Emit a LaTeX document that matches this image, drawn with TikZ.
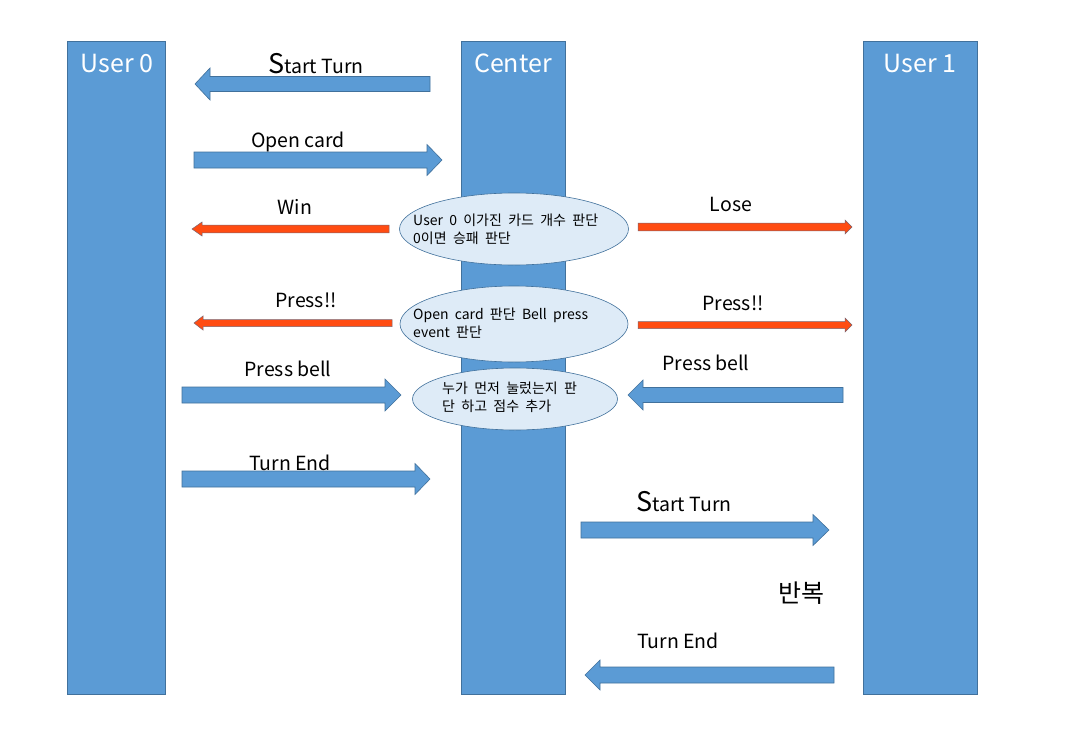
\documentclass[tikz,border=0pt]{standalone}
\usepackage{fontspec}
\setmainfont{Noto Sans CJK KR}
\usetikzlibrary{shapes.geometric}
\definecolor{colfill}{HTML}{5B9BD5}
\definecolor{colline}{HTML}{41719C}
\definecolor{ellfill}{HTML}{DEEBF7}
\definecolor{hotfill}{HTML}{FF4C12}
% \barrow{style}{xstart}{xheadbase}{xtip}{y}{half body}{half head}
\newcommand\barrow[7]{%
  \draw[#1] (#2,#5-#6) -- (#3,#5-#6) -- (#3,#5-#7) -- (#4,#5) -- (#3,#5+#7) -- (#3,#5+#6) -- (#2,#5+#6) -- cycle;}
\newcommand\judgefont{\fontsize{14}{18}\selectfont\spaceskip=0.45em\relax}
\tikzset{
  column/.style={draw=colline, fill=colfill, line width=0.6pt},
  colhead/.style={text=white, font=\fontsize{25}{28}\selectfont},
  bluearrow/.style={draw=colline, fill=colfill, line width=0.6pt},
  hotarrow/.style={draw=colline!70!hotfill, fill=hotfill, line width=0.5pt},
  lab/.style={font=\fontsize{19.5}{22}\selectfont, inner sep=0pt},
  judge/.style={ellipse, draw=colline, fill=ellfill, line width=0.6pt, inner sep=0pt},
  judgetext/.style={align=left, font=\judgefont, inner sep=0pt, anchor=west},
}
\newcommand\bigS{{\fontsize{27}{27}\selectfont S}}
\begin{document}
\begin{tikzpicture}[x=1pt,y=-1pt]
\useasboundingbox (0,0) rectangle (1076,731);
\fill[white] (0,0) rectangle (1076,731);
% columns
\draw[column] (67,41) rectangle (165,694);
\draw[column] (461,41) rectangle (565,694);
\draw[column] (863,41) rectangle (977,694);
\node[colhead] (h0) at (117,63) {User 0};
\node[colhead] (hc) at (513,63) {Center};
\node[colhead] (h1) at (920,63) {User 1};
% ellipses
\node[judge, minimum width=229pt, minimum height=72pt] (e1) at (514,229) {};
\node[judgetext] (e1t) at (413,229) {User 0 이가진 카드 개수 판단\\0이면 승패 판단};
\node[judge, minimum width=228pt, minimum height=76pt] (e2) at (514,324) {};
\node[judgetext] (e2t) at (413,323) {Open card 판단 Bell press\\event 판단};
\node[judge, minimum width=205pt, minimum height=62pt] (e3) at (515,399) {};
\node[judgetext] (e3t) at (442,397) {누가 먼저 눌렀는지 판\\단 하고 점수 추가};
% arrows
\barrow{bluearrow}{430}{210}{195}{84}{7.5}{16}
\node[lab, anchor=base] (l1) at (316,73) {\bigS tart Turn};
\barrow{bluearrow}{194}{427}{442}{160}{8}{15.5}
\node[lab, anchor=base] (l2) at (298,147) {Open card};
\barrow{hotarrow}{389}{202}{192}{229}{3.8}{7}
\node[lab, anchor=base] (l3) at (295,214) {Win};
\barrow{hotarrow}{638}{845}{852}{227}{3.8}{7}
\node[lab, anchor=base] (l4) at (731,211) {Lose};
\barrow{hotarrow}{392}{203}{194}{323}{3.5}{7}
\node[lab, anchor=base] (l5) at (306,307) {Press!!};
\barrow{hotarrow}{638}{845}{852}{325}{3.5}{7}
\node[lab, anchor=base] (l6) at (733,310) {Press!!};
\barrow{bluearrow}{182}{385}{401}{395}{8}{16}
\node[lab, anchor=base] (l7) at (288,376) {Press bell};
\barrow{bluearrow}{843}{643}{628}{395}{7.5}{15}
\node[lab, anchor=base] (l8) at (706,370) {Press bell};
\barrow{bluearrow}{182}{415}{430}{479}{8}{15.5}
\node[lab, anchor=base] (l9) at (290,470) {Turn End};
\barrow{bluearrow}{581}{813}{829}{530}{8}{15.5}
\node[lab, anchor=base] (l10) at (684,511) {\bigS tart Turn};
\node[font=\fontsize{25}{28}\selectfont, inner sep=0pt] (rep) at (801,593) {반복};
\barrow{bluearrow}{834}{600}{585}{675}{8}{15}
\node[lab, anchor=base] (l11) at (678,648) {Turn End};
\end{tikzpicture}
\end{document}
